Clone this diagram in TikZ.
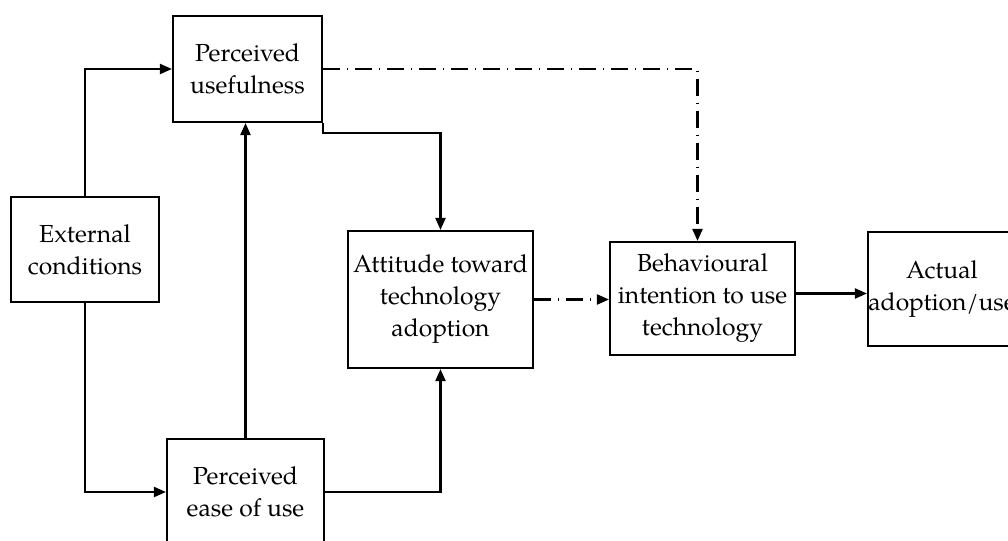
\documentclass[tikz,border=0pt]{standalone}
\usepackage{fontspec}
\setmainfont{TeX Gyre Pagella}
\usepackage{tikz}
\usetikzlibrary{arrows.meta}
\tikzset{
  box/.style={draw, line width=1.6pt, align=center, inner sep=0pt,
    font=\fontsize{18.5}{24}\selectfont},
  link/.style={line width=1.6pt, -{Triangle[length=9pt,width=7.5pt]}},
  dashlink/.style={link, dash pattern=on 13pt off 5pt on 1pt off 5pt}
}

\begin{document}
\begin{tikzpicture}[x=0.75pt,y=-0.75pt]
\useasboundingbox (0,0) rectangle (1008,541);
\clip (0,0) rectangle (1008,541);

% Boxes
\node[box, minimum width=111pt, minimum height=78.75pt] (ext) at (85,249.5) {External\\conditions};
\node[box, minimum width=111.75pt, minimum height=79.5pt] (pu) at (247.5,69) {Perceived\\usefulness};
\node[box, minimum width=117.75pt, minimum height=79.5pt] (peou) at (245.5,492) {Perceived\\ease of use};
\node[box, minimum width=138.75pt, minimum height=102.75pt] (att) at (440.5,299.5) {Attitude toward\\technology\\adoption};
\node[box, minimum width=138.75pt, minimum height=84.75pt] (bi) at (702.5,298.5) {Behavioural\\intention to use\\technology};
\node[box, minimum width=111pt, minimum height=85.5pt] (use) at (942,289) {Actual\\adoption/use};

% Solid links
\draw[link] (ext.north) |- (pu.west);
\draw[link] (ext.south) |- (peou.west);
\draw[link] (peou.north) -- (peou.north |- pu.south);
\draw[link] (peou.east) -| (att.south);
\draw[link] (pu.south east) -- ++(0,10) -| (att.north);
\draw[link] ([yshift=3.75pt]bi.east) -- ([yshift=3.75pt]bi.east -| use.west);

% Dash-dot links
\draw[dashlink] (pu.east) -| ([xshift=-3.75pt]bi.north);
\draw[dashlink] (att.east) -- (att.east -| bi.west);
\end{tikzpicture}
\end{document}
